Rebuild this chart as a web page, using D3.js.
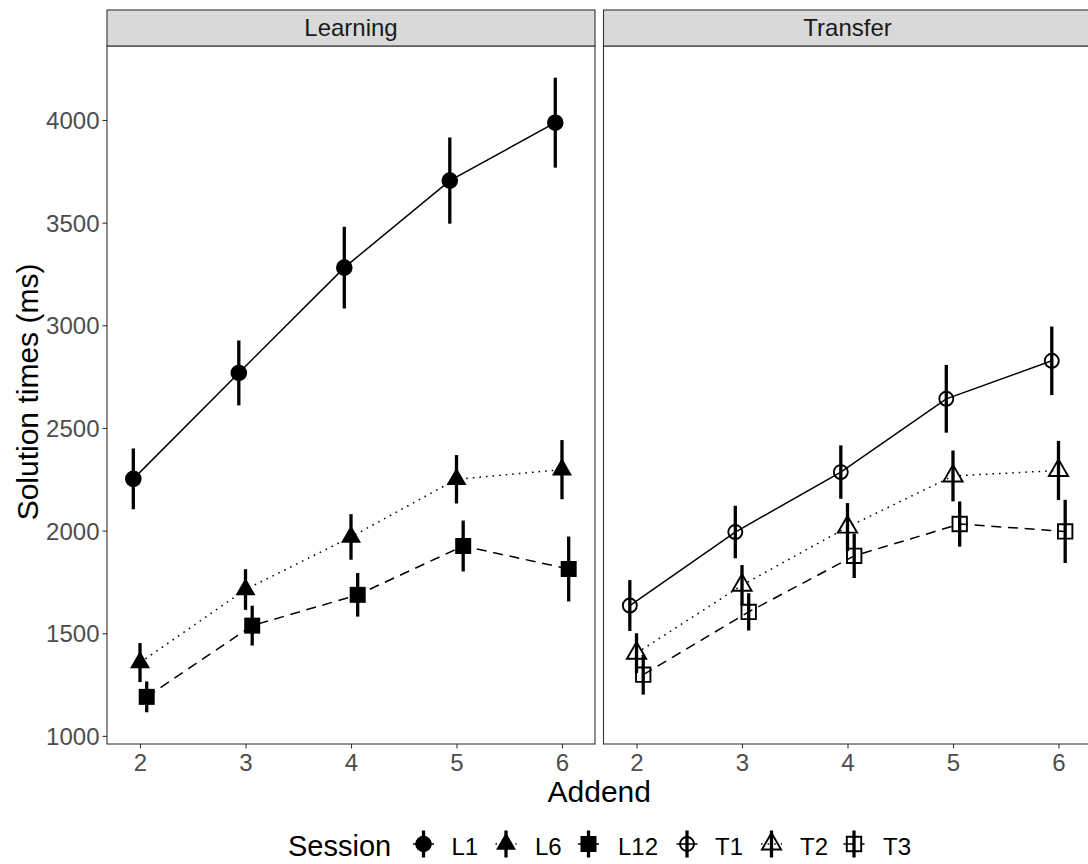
<!DOCTYPE html>
<html>
<head>
<meta charset="utf-8">
<script src="https://cdn.jsdelivr.net/npm/d3@7"></script>
<style>
  html, body { margin: 0; padding: 0; background: #fff; }
  svg { display: block; font-family: "Liberation Sans", Arial, Helvetica, sans-serif; }
</style>
</head>
<body>
<svg id="chart" width="1088" height="864"></svg>
<script>
// ---- data: mean solution times (ms) and error half-widths per addend ----
const addends = [2, 3, 4, 5, 6];
const phases = ["Learning", "Transfer"];
const sessions = ["L1", "L6", "L12", "T1", "T2", "T3"];
const sessionPhase = ["Learning", "Learning", "Learning", "Transfer", "Transfer", "Transfer"];

const L1_mean  = [2252, 2768, 3281, 3705, 3987];
const L1_err   = [148, 158, 199, 210, 219];
const L6_mean  = [1357, 1713, 1969, 2250, 2297];
const L6_err   = [95, 99, 111, 118, 144];
const L12_mean = [1190, 1537, 1687, 1925, 1813];
const L12_err  = [75, 97, 106, 124, 158];
const T1_mean  = [1635, 1993, 2285, 2642, 2827];
const T1_err   = [124, 128, 130, 165, 167];
const T2_mean  = [1403, 1734, 2017, 2266, 2293];
const T2_err   = [97, 98, 117, 124, 144];
const T3_mean  = [1298, 1604, 1877, 2032, 1996];
const T3_err   = [97, 91, 108, 110, 154];

const yTicks = [1000, 1500, 2000, 2500, 3000, 3500, 4000];

const means = [L1_mean, L6_mean, L12_mean, T1_mean, T2_mean, T3_mean];
const errs  = [L1_err, L6_err, L12_err, T1_err, T2_err, T3_err];

// per-session styling: shape, filled, line type, dodge offset
const shapeOf = { L1: "circle", L6: "triangle", L12: "square", T1: "circle", T2: "triangle", T3: "square" };
const filledOf = { L1: true, L6: true, L12: true, T1: false, T2: false, T3: false };
const dashOf = { L1: null, L6: "1.6,5", L12: "10,6.7", T1: null, T2: "1.6,5", T3: "10,6.7" };
const dodgeOf = { L1: -0.0635, L6: 0, L12: 0.0635, T1: -0.0635, T2: 0, T3: 0.0635 };

const rows = [];
sessions.forEach((s, i) => {
  addends.forEach((a, j) => {
    rows.push({ session: s, phase: sessionPhase[i], addend: a, mean: means[i][j], err: errs[i][j] });
  });
});

// ---- layout ----
const svg = d3.select("#chart");
const panelTop = 46, panelBottom = 744, stripTop = 10;
const panelW = 488;
const panelLefts = [107, 603.5];

const ylo = d3.min(rows, d => d.mean - d.err);
const yhi = d3.max(rows, d => d.mean + d.err);
const pad = (yhi - ylo) * 0.05;
const y = d3.scaleLinear().domain([ylo - pad, yhi + pad]).range([panelBottom, panelTop]);

const xDomain = [1.687, 6.313];

const ink = "#000";
const axisGrey = "#333333";
const tickText = "#4D4D4D";

// symbol path builder (centre coordinates come from the scales)
function symbolPath(shape, cx, cy, filled) {
  if (shape === "circle") {
    const r = filled ? 8.3 : 7.0;
    return `M${cx - r},${cy}a${r},${r} 0 1,0 ${2 * r},0a${r},${r} 0 1,0 ${-2 * r},0Z`;
  }
  if (shape === "square") {
    const h = filled ? 8.0 : 7.2;
    return `M${cx - h},${cy - h}H${cx + h}V${cy + h}H${cx - h}Z`;
  }
  // triangle (point up), centred at its centroid
  const xc = filled ? 10.0 : 9.6;
  const up = xc * 1.155, down = xc * 0.577;
  return `M${cx},${cy - up}L${cx + xc},${cy + down}L${cx - xc},${cy + down}Z`;
}

phases.forEach((phase, pi) => {
  const left = panelLefts[pi];
  const x = d3.scaleLinear().domain(xDomain).range([left, left + panelW]);
  const g = svg.append("g");

  g.append("rect").attr("x", left).attr("y", panelTop).attr("width", panelW)
    .attr("height", panelBottom - panelTop).attr("fill", "#fff");

  const data = rows.filter(d => d.phase === phase);
  const bySession = d3.groups(data, d => d.session);

  // connecting lines
  const line = d3.line().x(d => x(d.addend + dodgeOf[d.session])).y(d => y(d.mean));
  bySession.forEach(([s, pts]) => {
    g.append("path").datum(pts).attr("d", line)
      .attr("fill", "none").attr("stroke", ink).attr("stroke-width", 1.5)
      .attr("stroke-dasharray", dashOf[s]);
  });

  // points
  data.forEach(d => {
    const cx = x(d.addend + dodgeOf[d.session]), cy = y(d.mean);
    const filled = filledOf[d.session];
    g.append("path").attr("d", symbolPath(shapeOf[d.session], cx, cy, filled))
      .attr("fill", filled ? ink : "none")
      .attr("stroke", filled ? "none" : ink)
      .attr("stroke-width", filled ? 0 : 1.9);
  });

  // error bars
  g.selectAll("line.err").data(data).join("line").attr("class", "err")
    .attr("x1", d => x(d.addend + dodgeOf[d.session]))
    .attr("x2", d => x(d.addend + dodgeOf[d.session]))
    .attr("y1", d => y(d.mean - d.err)).attr("y2", d => y(d.mean + d.err))
    .attr("stroke", ink).attr("stroke-width", 3.3);

  // panel border
  g.append("rect").attr("x", left).attr("y", panelTop).attr("width", panelW)
    .attr("height", panelBottom - panelTop).attr("fill", "none")
    .attr("stroke", axisGrey).attr("stroke-width", 1.1);

  // facet strip
  g.append("rect").attr("x", left).attr("y", stripTop).attr("width", panelW)
    .attr("height", panelTop - stripTop).attr("fill", "#D9D9D9")
    .attr("stroke", axisGrey).attr("stroke-width", 1.1);
  g.append("text").attr("x", left + panelW / 2).attr("y", (stripTop + panelTop) / 2)
    .attr("dy", "0.35em").attr("text-anchor", "middle").attr("font-size", 24)
    .attr("fill", "#1A1A1A").text(phase);

  // x axis
  const xAxis = d3.axisBottom(x).tickValues(addends).tickSize(4.5).tickPadding(5)
    .tickFormat(d3.format("d"));
  const xa = g.append("g").attr("transform", `translate(0,${panelBottom})`).call(xAxis);
  xa.select(".domain").remove();
  xa.selectAll(".tick line").attr("stroke", axisGrey).attr("stroke-width", 1.1);
  xa.selectAll(".tick text").attr("font-size", 24).attr("fill", tickText)
    .attr("font-family", null).attr("dy", "0.73em");

  // y axis on the first panel only
  if (pi === 0) {
    const yAxis = d3.axisLeft(y).tickValues(yTicks).tickSize(4.5).tickPadding(3)
      .tickFormat(d3.format("d"));
    const ya = g.append("g").attr("transform", `translate(${left},0)`).call(yAxis);
    ya.select(".domain").remove();
    ya.selectAll(".tick line").attr("stroke", axisGrey).attr("stroke-width", 1.1);
    ya.selectAll(".tick text").attr("font-size", 24).attr("fill", tickText)
      .attr("font-family", null).attr("dy", "0.36em");
  }
});

// axis titles
svg.append("text").attr("x", (panelLefts[0] + panelLefts[1] + panelW) / 2).attr("y", 791)
  .attr("dy", "0.36em").attr("text-anchor", "middle").attr("font-size", 30)
  .attr("fill", "#000").text("Addend");
svg.append("text").attr("transform", `translate(27,392) rotate(-90)`)
  .attr("dy", "0.36em").attr("text-anchor", "middle").attr("font-size", 30)
  .attr("fill", "#000").text("Solution times (ms)");

// legend
const legY = 846, keyY = 844;
const legend = svg.append("g");
legend.append("text").attr("x", 288).attr("y", legY).attr("dy", "0.36em")
  .attr("font-size", 29).attr("fill", "#000").text("Session");
const keyX = [423.5, 506, 588.5, 687, 771.5, 854];
const labelX = [451.5, 535, 618, 715, 800, 883];
sessions.forEach((s, i) => {
  const cx = keyX[i];
  legend.append("line").attr("x1", cx - 10.5).attr("x2", cx + 10.5).attr("y1", keyY).attr("y2", keyY)
    .attr("stroke", ink).attr("stroke-width", 1.5).attr("stroke-dasharray", dashOf[s]);
  const filled = filledOf[s];
  legend.append("path").attr("d", symbolPath(shapeOf[s], cx, keyY, filled))
    .attr("fill", filled ? ink : "none").attr("stroke", filled ? "none" : ink)
    .attr("stroke-width", filled ? 0 : 1.9);
  legend.append("line").attr("x1", cx).attr("x2", cx).attr("y1", keyY - 13.5).attr("y2", keyY + 13.5)
    .attr("stroke", ink).attr("stroke-width", 3.3);
  legend.append("text").attr("x", labelX[i]).attr("y", legY).attr("dy", "0.36em")
    .attr("font-size", 24).attr("fill", "#000").text(s);
});
</script>
</body>
</html>
